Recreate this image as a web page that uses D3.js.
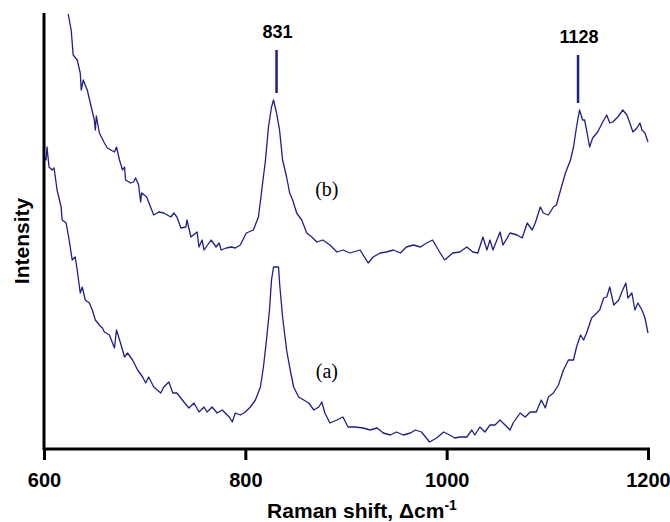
<!DOCTYPE html>
<html>
<head>
<meta charset="utf-8">
<script src="https://cdn.jsdelivr.net/npm/d3@7"></script>
<style>
  body { margin: 0; background: #fff; }
  svg { display: block; }
</style>
</head>
<body>
<div id="app"></div>
<script>
const width = 670;
const height = 522;
const lineColor = "#1f1f8c";

// spectrum (b): wavenumber / intensity (a.u.)
const shiftB = [624, 627, 629, 633, 636, 637, 639, 643, 646, 650, 651, 652, 655, 660, 663, 670, 672, 675, 678, 680,
  681, 686, 689, 691, 694, 696, 697, 702, 707, 709, 714, 719, 726, 729, 732, 736, 741, 742, 746, 752,
  754, 757, 759, 766, 771, 774, 776, 781, 786, 790, 795, 801, 808, 813, 816, 820, 823, 826, 828, 831,
  834, 837, 841, 844, 847, 851, 856, 861, 866, 871, 877, 884, 891, 897, 904, 914, 922, 927, 934, 940,
  947, 954, 960, 967, 974, 980, 986, 993, 998, 1006, 1013, 1020, 1026, 1031, 1036, 1040, 1043, 1046, 1053, 1056,
  1063, 1070, 1075, 1080, 1085, 1088, 1093, 1096, 1101, 1106, 1109, 1114, 1118, 1123, 1126, 1129, 1132, 1135, 1137, 1139,
  1142, 1145, 1150, 1155, 1159, 1162, 1165, 1170, 1175, 1179, 1182, 1185, 1189, 1192, 1194, 1197, 1200];
const intensityB = [435, 419, 394, 389, 376, 359, 369, 359, 346, 329, 319, 333, 316, 306, 301, 297, 302, 289, 279, 282,
  269, 266, 267, 271, 264, 247, 256, 252, 239, 234, 237, 236, 232, 236, 232, 221, 222, 229, 212, 217,
  202, 209, 199, 209, 202, 206, 199, 201, 202, 201, 204, 216, 219, 232, 256, 289, 322, 342, 349, 336,
  319, 289, 272, 256, 249, 236, 229, 216, 212, 207, 209, 204, 197, 199, 196, 199, 186, 192, 196, 197,
  199, 196, 202, 204, 202, 206, 209, 197, 189, 196, 197, 202, 197, 196, 212, 199, 209, 199, 217, 204,
  216, 214, 211, 226, 219, 226, 242, 236, 234, 242, 244, 262, 276, 289, 302, 322, 339, 329, 329, 319,
  302, 311, 317, 327, 334, 326, 327, 332, 339, 334, 326, 317, 321, 326, 319, 316, 307];

// spectrum (a)
const shiftA = [600, 602, 603, 605, 608, 610, 613, 617, 618, 622, 625, 628, 631, 633, 636, 638, 641, 645, 648, 651,
  655, 658, 660, 665, 670, 672, 676, 680, 683, 688, 693, 698, 701, 704, 709, 716, 719, 724, 728, 732,
  739, 744, 749, 754, 759, 762, 767, 772, 777, 784, 787, 790, 795, 800, 805, 810, 815, 818, 821, 824,
  826, 828, 833, 834, 837, 841, 844, 848, 853, 858, 863, 868, 873, 876, 879, 884, 891, 897, 902, 909,
  917, 924, 931, 937, 944, 950, 957, 964, 969, 975, 983, 990, 997, 1003, 1008, 1013, 1020, 1025, 1028, 1033,
  1038, 1043, 1048, 1053, 1058, 1063, 1066, 1073, 1078, 1083, 1089, 1094, 1098, 1101, 1106, 1111, 1116, 1121, 1126, 1129,
  1133, 1136, 1139, 1144, 1149, 1152, 1156, 1159, 1162, 1166, 1171, 1174, 1178, 1180, 1184, 1187, 1190, 1194, 1197, 1200];
const intensityA = [292, 289, 302, 282, 279, 281, 259, 242, 229, 226, 209, 189, 192, 179, 156, 162, 149, 146, 139, 129,
  124, 121, 117, 114, 101, 119, 106, 92, 96, 89, 79, 72, 66, 72, 62, 56, 62, 67, 56, 56,
  47, 41, 46, 37, 42, 37, 42, 36, 39, 32, 27, 36, 34, 37, 42, 49, 62, 82, 109, 139,
  169, 182, 182, 166, 132, 99, 82, 62, 52, 49, 46, 39, 42, 47, 36, 26, 29, 32, 22, 22,
  21, 19, 21, 16, 14, 17, 14, 16, 19, 17, 7, 11, 17, 14, 11, 12, 12, 19, 14, 22,
  17, 24, 24, 29, 24, 19, 26, 36, 32, 37, 37, 49, 41, 52, 56, 64, 79, 89, 89, 102,
  114, 109, 116, 131, 136, 139, 151, 152, 162, 144, 149, 157, 166, 151, 156, 139, 146, 139, 131, 116];

// peak markers: position on the axis, label, line top/bottom (a.u.)
const peakPos = [831, 1130.5];
const peakLabels = ["831", "1128"];
const peakTop = [399, 394];
const peakBottom = [356, 346];

// curve labels
const curveNames = ["(b)", "(a)"];
const curveLabelX = [881, 881];
const curveLabelY = [253, 71];

const xTicks = [600, 800, 1000, 1200];

document.getElementById("app").innerHTML = `<svg width="${width}" height="${height}"></svg>`;
const svg = d3.select("svg");

const x = d3.scaleLinear().domain([600, 1200]).range([44, 648]);
const y = d3.scaleLinear().domain([0, 436]).range([449, 13]);

svg.append("defs").append("clipPath").attr("id", "plot")
  .append("rect").attr("x", 44).attr("y", 13).attr("width", 610).attr("height", 436);

const line = d3.line().x(d => x(d[0])).y(d => y(d[1]));

const plot = svg.append("g").attr("clip-path", "url(#plot)");
[[shiftB, intensityB], [shiftA, intensityA]].forEach(([xs, ys]) => {
  plot.append("path")
    .datum(xs.map((v, i) => [v, ys[i]]))
    .attr("fill", "none")
    .attr("stroke", lineColor)
    .attr("stroke-width", 1.3)
    .attr("stroke-linejoin", "round")
    .attr("d", line);
});

// peak markers
peakPos.forEach((p, i) => {
  svg.append("line")
    .attr("x1", x(p)).attr("x2", x(p))
    .attr("y1", y(peakTop[i])).attr("y2", y(peakBottom[i]))
    .attr("stroke", lineColor).attr("stroke-width", 2.5);
  svg.append("text")
    .attr("x", x(p) + 1).attr("y", y(peakTop[i]) - 12)
    .attr("text-anchor", "middle")
    .style("font", "bold 18px 'Liberation Sans', Arial, sans-serif")
    .text(peakLabels[i]);
});

curveNames.forEach((n, i) => {
  svg.append("text")
    .attr("x", x(curveLabelX[i])).attr("y", y(curveLabelY[i]))
    .attr("text-anchor", "middle")
    .style("font", "20px 'Liberation Serif', 'Times New Roman', serif")
    .text(n);
});

// axes
const xAxis = svg.append("g")
  .attr("transform", "translate(0,449)")
  .call(d3.axisBottom(x).tickValues(xTicks).tickSize(11).tickPadding(13).tickFormat(d3.format("d")));
xAxis.select(".domain").attr("d", `M43,0H650`).attr("stroke-width", 3);
xAxis.selectAll(".tick line").attr("stroke-width", 3);
xAxis.selectAll(".tick text")
  .style("font", "bold 20px 'Liberation Sans', Arial, sans-serif")
  .attr("fill", "#000");

svg.append("line")
  .attr("x1", 44).attr("x2", 44).attr("y1", 13).attr("y2", 450)
  .attr("stroke", "#000").attr("stroke-width", 3);

svg.append("text")
  .attr("x", 362).attr("y", 518)
  .attr("text-anchor", "middle")
  .style("font", "bold 21px 'Liberation Sans', Arial, sans-serif")
  .html("Raman shift, Δcm<tspan dy='-8' font-size='14'>-1</tspan>");

svg.append("text")
  .attr("transform", "translate(29,241) rotate(-90)")
  .attr("text-anchor", "middle")
  .style("font", "bold 21px 'Liberation Sans', Arial, sans-serif")
  .text("Intensity");
</script>
</body>
</html>
